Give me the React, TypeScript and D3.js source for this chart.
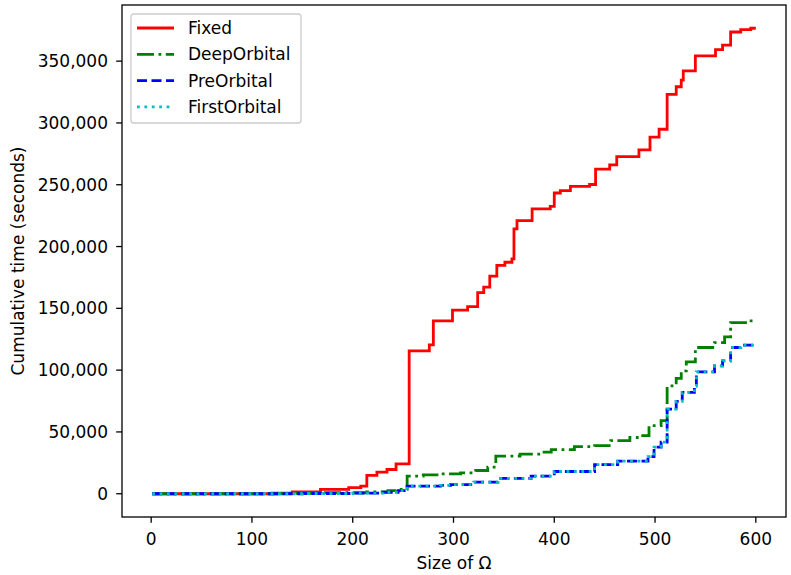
import React from 'react'
import * as d3 from 'd3'

const width = 791
const height = 575

const margins = {
  top: 5,
  left: 122,
  right: 5,
  bottom: 58,
}

const fontFamily = 'DejaVu Sans, sans-serif'
const fontSize = 17
const lineWidth = 2.8

// step points: [size, cumulative seconds]
const fixedPoints: [number, number][] = [
  [1, 0], [120, 500], [140, 1500], [168, 3500], [196, 5000], [208, 6200],
  [214, 14800], [224, 17500], [234, 19600], [243, 24200], [256, 115600],
  [276, 120400], [280, 139800], [299, 148600], [314, 151400], [324, 162700],
  [330, 167200], [336, 176000], [343, 184700], [351, 187300], [358, 190000],
  [360, 214300], [363, 221000], [378, 230400], [396, 232500], [400, 243300],
  [406, 245200], [416, 248600], [435, 250200], [441, 262600], [455, 266100],
  [462, 272800], [484, 278200], [495, 288500], [504, 294900], [512, 323100],
  [521, 329300], [526, 334700], [528, 342200], [540, 354300], [560, 359400],
  [567, 362900], [575, 373600], [585, 375500], [595, 376600], [600, 376600],
]

const deepOrbitalPoints: [number, number][] = [
  [1, 0], [130, 300], [170, 800], [214, 1500], [235, 2500], [243, 3500],
  [254, 14300], [270, 15200], [287, 16100], [307, 16900], [322, 18800],
  [334, 21500], [342, 30400], [366, 32000], [386, 33600], [397, 35700],
  [420, 38100], [440, 39000], [456, 43000], [475, 45500], [486, 47000],
  [494, 55100], [506, 59100], [512, 87300], [521, 93300], [526, 99400],
  [531, 106700], [540, 118300], [559, 122300], [569, 126900], [575, 138400],
  [592, 139800], [600, 140600],
]

const preOrbitalPoints: [number, number][] = [
  [1, 0], [150, 200], [200, 500], [230, 1200], [245, 2500], [254, 6200],
  [287, 6700], [297, 7300], [320, 9400], [344, 12400], [377, 14300],
  [400, 18000], [440, 23600], [463, 26400], [493, 30100], [499, 37700],
  [506, 41700], [512, 68500], [521, 74800], [527, 82000], [539, 86900],
  [541, 98600], [559, 103500], [567, 107500], [575, 118300], [585, 120200],
  [600, 121500],
]

const firstOrbitalPoints: [number, number][] = [
  [1, 0], [150, 200], [200, 500], [230, 1200], [245, 2500], [254, 6200],
  [287, 6700], [297, 7300], [320, 9400], [344, 12400], [377, 14300],
  [400, 18000], [440, 23600], [463, 26400], [493, 30100], [499, 37700],
  [506, 41700], [512, 68500], [521, 74800], [527, 82000], [539, 86900],
  [541, 98600], [559, 103500], [567, 107500], [575, 118300], [585, 120200],
  [600, 121500],
]

const xTicks = [0, 100, 200, 300, 400, 500, 600]
const yTicks = [0, 50000, 100000, 150000, 200000, 250000, 300000, 350000]

const series = [
  { name: 'Fixed', points: fixedPoints, color: '#ff0000', dash: 'none' },
  { name: 'DeepOrbital', points: deepOrbitalPoints, color: '#008000', dash: '17,4.5,2.8,4.5' },
  { name: 'PreOrbital', points: preOrbitalPoints, color: '#0000ff', dash: '10,4.5' },
  { name: 'FirstOrbital', points: firstOrbitalPoints, color: '#00bfbf', dash: '2.8,4.6' },
]

export default function App() {
  const plotRight = width - margins.right
  const plotBottom = height - margins.bottom

  const x = d3.scaleLinear().domain([-28.95, 629.95]).range([margins.left, plotRight])
  const y = d3.scaleLinear().domain([-18830, 395430]).range([plotBottom, margins.top])

  const line = d3
    .line<[number, number]>()
    .x((d) => x(d[0]))
    .y((d) => y(d[1]))
    .curve(d3.curveStepAfter)

  const fmt = d3.format(',')

  const textStyle = { fontFamily, fontSize: fontSize + 'px', fill: '#000' }

  // legend layout
  const legend = { x: 131, y: 14, w: 170, h: 109, rowH: 26.3 }

  return (
    <div style={{ position: 'absolute', left: 0, top: 0 }}>
      <svg width={width} height={height} style={{ display: 'block', background: '#fff' }}>
        {series.map((s) => (
          <path
            key={'line-' + s.name}
            d={line(s.points) || ''}
            fill="none"
            stroke={s.color}
            strokeWidth={lineWidth}
            strokeDasharray={s.dash}
          />
        ))}

        <rect
          x={margins.left}
          y={margins.top}
          width={plotRight - margins.left}
          height={plotBottom - margins.top}
          fill="none"
          stroke="#000"
          strokeWidth={1.3}
        />

        {xTicks.map((t) => (
          <g key={'xt-' + t}>
            <line x1={x(t)} x2={x(t)} y1={plotBottom} y2={plotBottom + 5.8} stroke="#000" strokeWidth={1.3} />
            <text x={x(t)} y={plotBottom + 28} textAnchor="middle" style={textStyle}>
              {t}
            </text>
          </g>
        ))}

        {yTicks.map((t) => (
          <g key={'yt-' + t}>
            <line x1={margins.left - 5.8} x2={margins.left} y1={y(t)} y2={y(t)} stroke="#000" strokeWidth={1.3} />
            <text x={margins.left - 14} y={y(t)} dy="0.36em" textAnchor="end" style={textStyle}>
              {fmt(t)}
            </text>
          </g>
        ))}

        <text x={(margins.left + plotRight) / 2} y={height - 6} textAnchor="middle" style={textStyle}>
          Size of Ω
        </text>
        <text
          transform={`translate(24, ${(margins.top + plotBottom) / 2}) rotate(-90)`}
          textAnchor="middle"
          style={textStyle}
        >
          Cumulative time (seconds)
        </text>

        <g>
          <rect
            x={legend.x}
            y={legend.y}
            width={legend.w}
            height={legend.h}
            rx={3}
            fill="#fff"
            fillOpacity={0.8}
            stroke="#cccccc"
            strokeWidth={1.3}
          />
          {series.map((s, i) => {
            const cy = legend.y + 14 + i * legend.rowH
            return (
              <g key={'leg-' + s.name}>
                <line
                  x1={legend.x + 6}
                  x2={legend.x + 43}
                  y1={cy}
                  y2={cy}
                  stroke={s.color}
                  strokeWidth={lineWidth}
                  strokeDasharray={s.dash}
                />
                <text x={legend.x + 57} y={cy} dy="0.36em" style={textStyle}>
                  {s.name}
                </text>
              </g>
            )
          })}
        </g>
      </svg>
    </div>
  )
}
